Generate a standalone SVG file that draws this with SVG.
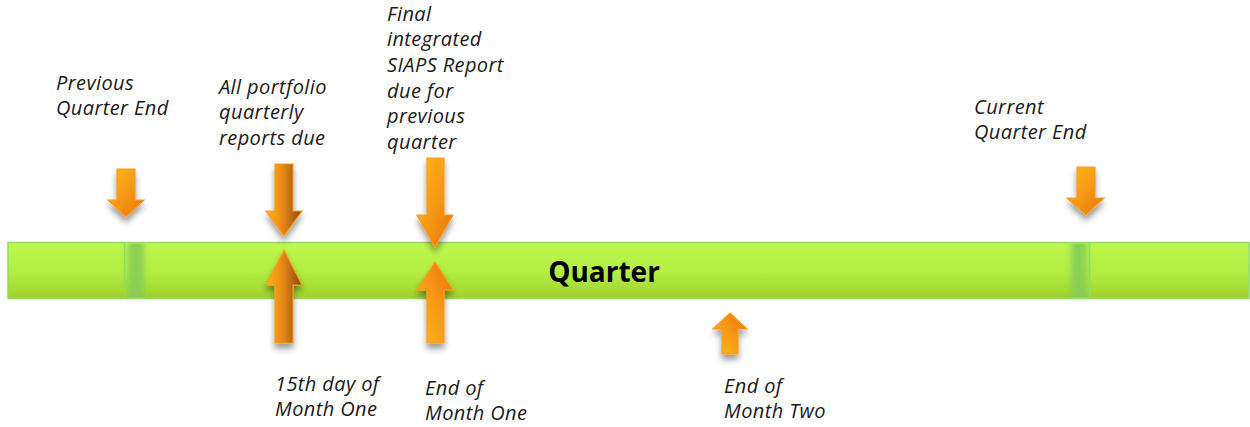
<svg xmlns="http://www.w3.org/2000/svg" width="1250" height="427" viewBox="0 0 1250 427">
  <style>
    .lbl { font-family: "Open Sans", "Noto Sans", "Liberation Sans", sans-serif; font-style: italic; font-size: 20px; letter-spacing: 0.4px; fill: #1a1a1a; }
    .bar-title { font-family: "Open Sans", "Noto Sans", "Liberation Sans", sans-serif; font-weight: bold; font-size: 28px; fill: #000; }
    .arrow { stroke: #ff9a1e; stroke-width: 1.2; stroke-linejoin: miter; filter: url(#shadow); }
    .down { fill: url(#gradDown); }
    .up { fill: url(#gradUp); }
    .brown { fill: url(#gradBrown); }
  </style>
  <defs>
    <linearGradient id="barGrad" x1="0" y1="0" x2="0" y2="1">
      <stop offset="0" stop-color="#bdf84f"/>
      <stop offset="0.5" stop-color="#b4ef44"/>
      <stop offset="1" stop-color="#9fd22b"/>
    </linearGradient>
    <linearGradient id="gradDown" x1="0" y1="0" x2="1" y2="1">
      <stop offset="0" stop-color="#ffbc1c"/>
      <stop offset="0.55" stop-color="#f69512"/>
      <stop offset="1" stop-color="#e5720e"/>
    </linearGradient>
    <linearGradient id="gradUp" x1="0" y1="1" x2="1" y2="0">
      <stop offset="0" stop-color="#ffbc1c"/>
      <stop offset="0.55" stop-color="#f69512"/>
      <stop offset="1" stop-color="#e5720e"/>
    </linearGradient>
    <linearGradient id="gradBrown" x1="0" y1="0" x2="1" y2="0">
      <stop offset="0" stop-color="#ffb51a"/>
      <stop offset="0.45" stop-color="#e98a12"/>
      <stop offset="1" stop-color="#874812"/>
    </linearGradient>
    <filter id="shadow" x="-50%" y="-30%" width="200%" height="160%">
      <feGaussianBlur in="SourceAlpha" stdDeviation="3"/>
      <feOffset dx="0" dy="5" result="off"/>
      <feComponentTransfer>
        <feFuncA type="linear" slope="0.4"/>
      </feComponentTransfer>
      <feMerge>
        <feMergeNode/>
        <feMergeNode in="SourceGraphic"/>
      </feMerge>
    </filter>
    <filter id="soft" x="-80%" y="0" width="260%" height="100%">
      <feGaussianBlur stdDeviation="3 0"/>
    </filter>
  </defs>

  <!-- quarter timeline bar -->
  <g id="bar">
    <rect x="8" y="242.5" width="1241" height="56" fill="url(#barGrad)" stroke="#92dc62" stroke-width="1.5"/>
    <rect x="128" y="243.5" width="16" height="54" fill="#86cd58" opacity="0.9" filter="url(#soft)"/>
    <rect x="1071" y="243.5" width="16" height="54" fill="#86cd58" opacity="0.9" filter="url(#soft)"/>
    <line x1="124.5" y1="243" x2="124.5" y2="298" stroke="#92dc62" stroke-width="1.5"/>
    <line x1="1089.5" y1="243" x2="1089.5" y2="298" stroke="#92dc62" stroke-width="1.5"/>
    <text class="bar-title" x="604" y="282" text-anchor="middle">Quarter</text>
  </g>

  <!-- milestone arrows -->
  <g id="connectors">
    <polygon id="arrow-prev-end" class="arrow down" points="117,169 135,169 135,200 144,200 126,217 108,200 117,200"/>
    <polygon id="arrow-portfolio" class="arrow brown" points="275,164 293,164 293,211 302,211 284,236 266,211 275,211"/>
    <polygon id="arrow-final" class="arrow down" points="427,158 444,158 444,215 453,215 435,247 417,215 427,215"/>
    <polygon id="arrow-current-end" class="arrow down" points="1077,167 1095,167 1095,198 1104,198 1086,215 1067,198 1077,198"/>
    <polygon id="arrow-day15" class="arrow brown" points="284,250 302,285 293,285 293,343 275,343 275,285 266,285"/>
    <polygon id="arrow-month1" class="arrow up" points="435,262 453,290 444,290 444,343 427,343 427,290 417,290"/>
    <polygon id="arrow-month2" class="arrow up" points="730,313 747,329 738,329 738,354 722,354 722,329 713,329"/>
  </g>

  <!-- milestone labels -->
  <g id="node-prev-end">
    <text class="lbl" x="56" y="90">Previous</text>
    <text class="lbl" x="56" y="115">Quarter End</text>
  </g>
  <g id="node-portfolio">
    <text class="lbl" x="219" y="94">All portfolio</text>
    <text class="lbl" x="219" y="119">quarterly</text>
    <text class="lbl" x="219" y="145">reports due</text>
  </g>
  <g id="node-final">
    <text class="lbl" x="387" y="21">Final</text>
    <text class="lbl" x="387" y="46">integrated</text>
    <text class="lbl" x="387" y="72">SIAPS Report</text>
    <text class="lbl" x="387" y="98">due for</text>
    <text class="lbl" x="387" y="123">previous</text>
    <text class="lbl" x="387" y="149">quarter</text>
  </g>
  <g id="node-current-end">
    <text class="lbl" x="974" y="114">Current</text>
    <text class="lbl" x="974" y="139">Quarter End</text>
  </g>
  <g id="node-day15">
    <text class="lbl" x="275" y="391">15th day of</text>
    <text class="lbl" x="275" y="416">Month One</text>
  </g>
  <g id="node-month1">
    <text class="lbl" x="425" y="395">End of</text>
    <text class="lbl" x="425" y="420">Month One</text>
  </g>
  <g id="node-month2">
    <text class="lbl" x="724" y="393">End of</text>
    <text class="lbl" x="724" y="418">Month Two</text>
  </g>
</svg>
